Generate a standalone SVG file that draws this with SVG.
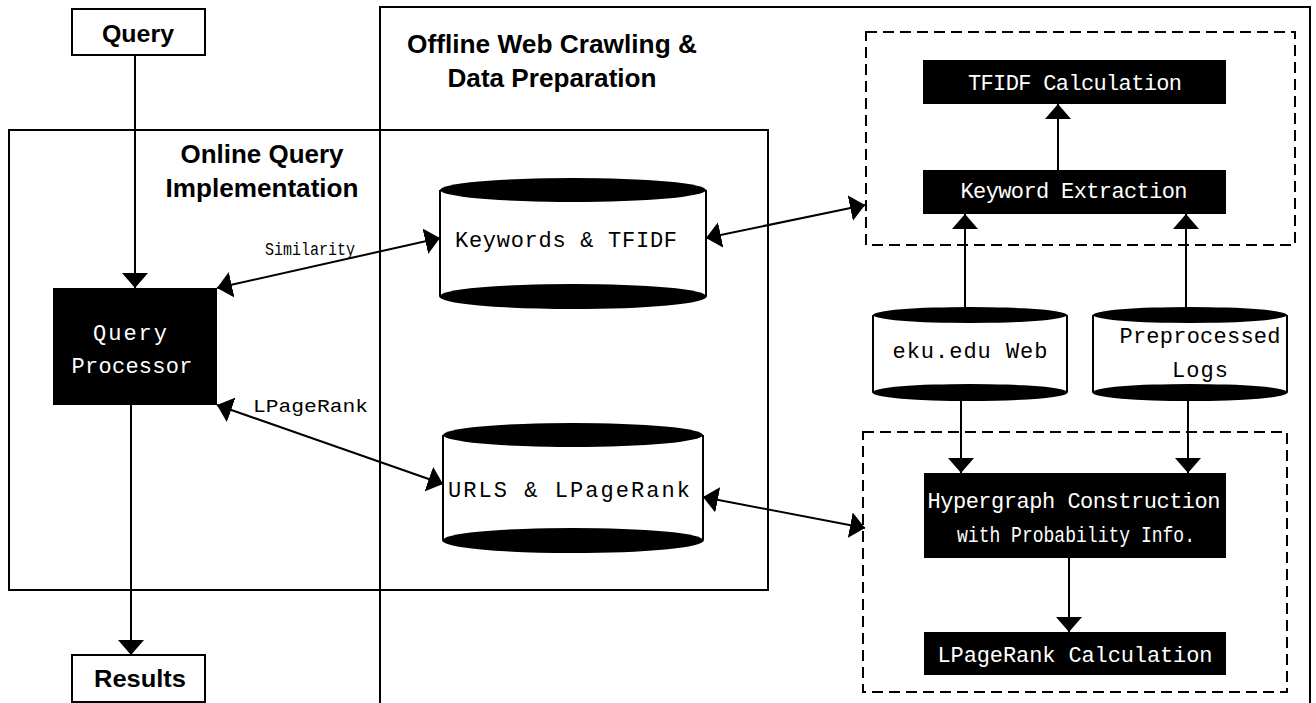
<svg xmlns="http://www.w3.org/2000/svg" width="1316" height="703" viewBox="0 0 1316 703">
<defs>
<marker id="ah" viewBox="0 0 15 26" refX="15" refY="13" markerWidth="15" markerHeight="26" markerUnits="userSpaceOnUse" orient="auto-start-reverse">
<path d="M0,0 L15,13 L0,26 z" fill="#000"/>
</marker>
<style>
.frame{fill:none;stroke:#000;stroke-width:2}
.dash{fill:none;stroke:#000;stroke-width:2;stroke-dasharray:11 6}
.blk{fill:#000}
.wbox{fill:#fff;stroke:#000;stroke-width:2}
.title{font-family:"Liberation Sans",Arial,sans-serif;font-weight:bold;font-size:25px;fill:#000;text-anchor:middle}
.io{font-family:"Liberation Sans",Arial,sans-serif;font-weight:bold;font-size:24px;fill:#000;text-anchor:middle}
.mono{font-family:"Liberation Mono","Courier New",monospace;font-size:22px;text-anchor:middle}
.wt{fill:#fff}
.bt{fill:#000}
.lbl{font-family:"Liberation Mono","Courier New",monospace;font-size:18px;fill:#000}
.con{fill:none;stroke:#000;stroke-width:2}
.cylbody{fill:#fff;stroke:#000;stroke-width:2}
</style>
</defs>
<rect width="1316" height="703" fill="#fff"/>

<g id="offline-frame">
<rect class="frame" x="380" y="7" width="930" height="705"/>
<text class="title" x="552" y="53" textLength="290" lengthAdjust="spacingAndGlyphs">Offline Web Crawling &amp;</text>
<text class="title" x="552" y="87" textLength="209" lengthAdjust="spacingAndGlyphs">Data Preparation</text>
</g>

<g id="online-frame">
<rect class="frame" x="9" y="130" width="759" height="460"/>
<text class="title" x="262" y="163" textLength="163" lengthAdjust="spacingAndGlyphs">Online Query</text>
<text class="title" x="262" y="197" textLength="193" lengthAdjust="spacingAndGlyphs">Implementation</text>
</g>

<g id="dashed-top"><rect class="dash" x="866" y="32" width="429" height="213"/></g>
<g id="dashed-bottom"><rect class="dash" x="863" y="432" width="424" height="260"/></g>

<g id="connectors">
<line class="con" x1="135" y1="55" x2="135" y2="288" marker-end="url(#ah)"/>
<line class="con" x1="131" y1="405" x2="131" y2="655" marker-end="url(#ah)"/>
<line class="con" x1="217" y1="288" x2="440" y2="238" marker-start="url(#ah)" marker-end="url(#ah)"/>
<line class="con" x1="217" y1="405" x2="443" y2="484" marker-start="url(#ah)" marker-end="url(#ah)"/>
<line class="con" x1="706" y1="238" x2="865" y2="205" marker-start="url(#ah)" marker-end="url(#ah)"/>
<line class="con" x1="703" y1="497" x2="865" y2="528" marker-start="url(#ah)" marker-end="url(#ah)"/>
<line class="con" x1="1058" y1="170" x2="1058" y2="104" marker-end="url(#ah)"/>
<line class="con" x1="965" y1="307" x2="965" y2="214" marker-end="url(#ah)"/>
<line class="con" x1="1186" y1="307" x2="1186" y2="214" marker-end="url(#ah)"/>
<line class="con" x1="961" y1="400" x2="961" y2="473" marker-end="url(#ah)"/>
<line class="con" x1="1188" y1="400" x2="1188" y2="473" marker-end="url(#ah)"/>
<line class="con" x1="1069" y1="558" x2="1069" y2="632" marker-end="url(#ah)"/>
<text class="lbl" x="265" y="255" textLength="90" lengthAdjust="spacingAndGlyphs">Similarity</text>
<text class="lbl" x="253" y="412" textLength="115" lengthAdjust="spacingAndGlyphs">LPageRank</text>
</g>

<g id="query">
<rect class="wbox" x="72" y="9" width="133" height="46"/>
<text class="io" x="138" y="42" textLength="72" lengthAdjust="spacingAndGlyphs">Query</text>
</g>

<g id="results">
<rect class="wbox" x="72" y="655" width="133" height="47"/>
<text class="io" x="140" y="687" textLength="92" lengthAdjust="spacingAndGlyphs">Results</text>
</g>

<g id="query-processor">
<rect class="blk" x="53" y="288" width="164" height="117"/>
<text class="mono wt" x="130" y="340" textLength="74" lengthAdjust="spacing">Query</text>
<text class="mono wt" x="132" y="373" textLength="121" lengthAdjust="spacing">Processor</text>
</g>

<g id="keywords-tfidf">
<path class="cylbody" d="M440,190 V296 A133,12 0 0 0 706,296 V190"/>
<ellipse class="blk" cx="573" cy="190" rx="133" ry="12"/>
<ellipse class="blk" cx="573" cy="296" rx="133" ry="12"/>
<text class="mono bt" x="566" y="247" textLength="222" lengthAdjust="spacing">Keywords &amp; TFIDF</text>
</g>

<g id="urls-lpagerank">
<path class="cylbody" d="M443,435 V540 A130,12 0 0 0 703,540 V435"/>
<ellipse class="blk" cx="573" cy="435" rx="130" ry="12"/>
<ellipse class="blk" cx="573" cy="540" rx="130" ry="12"/>
<text class="mono bt" x="569" y="497" textLength="242" lengthAdjust="spacing">URLS &amp; LPageRank</text>
</g>

<g id="tfidf-calc">
<rect class="blk" x="923" y="60" width="303" height="44"/>
<text class="mono wt" x="1075" y="90" textLength="214" lengthAdjust="spacing">TFIDF Calculation</text>
</g>

<g id="keyword-extraction">
<rect class="blk" x="923" y="170" width="303" height="44"/>
<text class="mono wt" x="1074" y="198" textLength="227" lengthAdjust="spacing">Keyword Extraction</text>
</g>

<g id="eku-web">
<path class="cylbody" d="M873,315 V392 A97,8 0 0 0 1067,392 V315"/>
<ellipse class="blk" cx="970" cy="315" rx="97" ry="8"/>
<ellipse class="blk" cx="970" cy="392" rx="97" ry="8"/>
<text class="mono bt" x="970" y="358" textLength="155" lengthAdjust="spacing">eku.edu Web</text>
</g>

<g id="preprocessed-logs">
<path class="cylbody" d="M1093,315 V392 A97,8 0 0 0 1287,392 V315"/>
<ellipse class="blk" cx="1190" cy="315" rx="97" ry="8"/>
<ellipse class="blk" cx="1190" cy="392" rx="97" ry="8"/>
<text class="mono bt" x="1200" y="343" textLength="161" lengthAdjust="spacing">Preprocessed</text>
<text class="mono bt" x="1200" y="377" textLength="56" lengthAdjust="spacing">Logs</text>
</g>

<g id="hypergraph">
<rect class="blk" x="924" y="473" width="302" height="85"/>
<text class="mono wt" x="1074" y="508" textLength="293" lengthAdjust="spacing">Hypergraph Construction</text>
<text class="mono wt" x="1076" y="542" textLength="238" lengthAdjust="spacingAndGlyphs">with Probability Info.</text>
</g>

<g id="lpagerank-calc">
<rect class="blk" x="924" y="632" width="302" height="43"/>
<text class="mono wt" x="1075" y="662" textLength="275" lengthAdjust="spacing">LPageRank Calculation</text>
</g>
</svg>
